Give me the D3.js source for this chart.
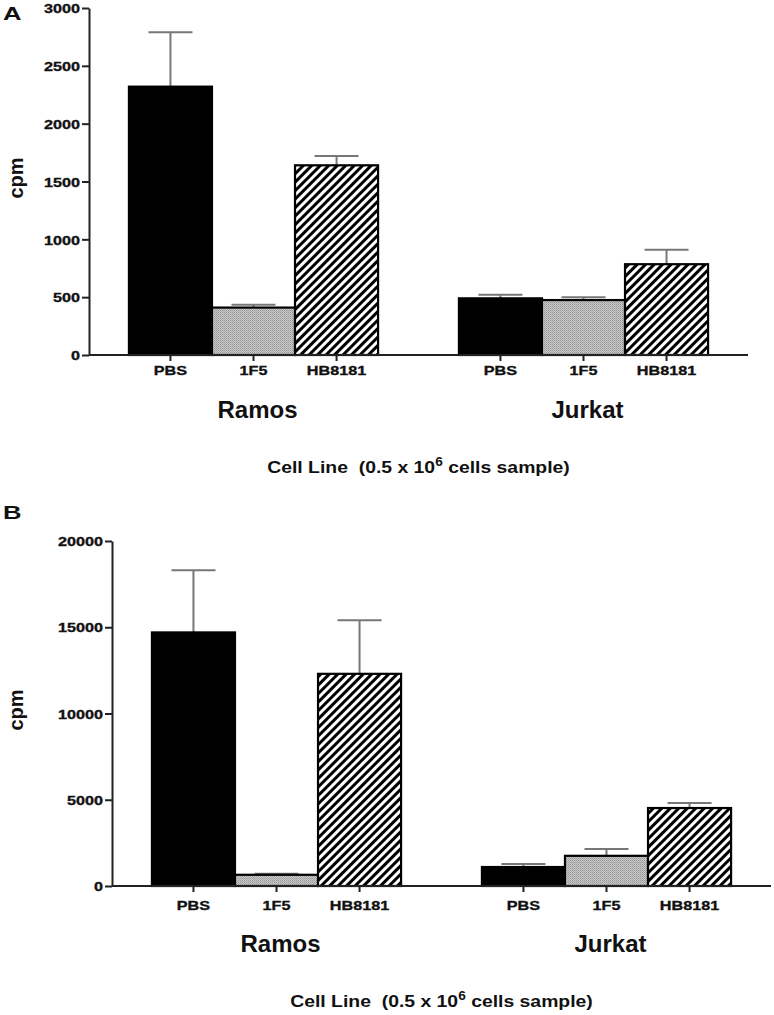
<!DOCTYPE html>
<html>
<head>
<meta charset="utf-8">
<script src="https://cdn.jsdelivr.net/npm/d3@7"></script>
<style>
  html, body { margin: 0; padding: 0; background: #fff; }
  svg { display: block; }
  text { font-family: "Liberation Sans", Arial, sans-serif; font-weight: bold; fill: #111; }
</style>
</head>
<body>
<script>
// ---- data ----
const groups = ["Ramos", "Jurkat"];
const treatments = ["PBS", "1F5", "HB8181"];

const panelAValues = [[2320, 410, 1640], [490, 475, 785]];
const panelAErrors = [[470, 25, 80], [30, 25, 125]];
const panelATicks = [0, 500, 1000, 1500, 2000, 2500, 3000];

const panelBValues = [[14700, 650, 12300], [1100, 1750, 4520]];
const panelBErrors = [[3600, 60, 3100], [170, 400, 290]];
const panelBTicks = [0, 5000, 10000, 15000, 20000];

const yTitle = "cpm";
const panelLetters = ["A", "B"];

// ---- drawing ----
const W = 774, H = 1015;
const svg = d3.select("body").append("svg").attr("width", W).attr("height", H);

const defs = svg.append("defs");
// diagonal hatch
const hatch = defs.append("pattern").attr("id", "hatch")
  .attr("patternUnits", "userSpaceOnUse").attr("width", 6).attr("height", 6)
  .attr("patternTransform", "rotate(45)");
hatch.append("rect").attr("width", 6).attr("height", 6).attr("fill", "#fff");
hatch.append("rect").attr("width", 3).attr("height", 6).attr("fill", "#000");
// grey stipple
const stip = defs.append("pattern").attr("id", "stipple")
  .attr("patternUnits", "userSpaceOnUse").attr("width", 2).attr("height", 2);
stip.append("rect").attr("width", 2).attr("height", 2).attr("fill", "#c8c8c8");
stip.append("rect").attr("width", 1).attr("height", 1).attr("fill", "#969696");
stip.append("rect").attr("x", 1).attr("y", 1).attr("width", 1).attr("height", 1).attr("fill", "#ababab");

const fills = { "PBS": "#000", "1F5": "url(#stipple)", "HB8181": "url(#hatch)" };

function panel(cfg) {
  const g = svg.append("g");
  const x0 = d3.scaleBand().domain(groups).range([cfg.xl, cfg.xr])
    .paddingInner(0.245).paddingOuter(0.121);
  const x1 = d3.scaleBand().domain(treatments).range([0, x0.bandwidth()]).padding(0);
  const y = d3.scaleLinear().domain([0, cfg.ymax]).range([cfg.yb, cfg.yt]);

  // bars
  groups.forEach((grp, gi) => {
    treatments.forEach((t, ti) => {
      const v = cfg.values[gi][ti], e = cfg.errors[gi][ti];
      const bx = x0(grp) + x1(t), bw = x1.bandwidth();
      const cx = bx + bw / 2;
      // error bar
      g.append("line").attr("x1", cx).attr("x2", cx).attr("y1", y(v)).attr("y2", y(v + e))
        .attr("stroke", "#777").attr("stroke-width", 2);
      g.append("line").attr("x1", cx - 22).attr("x2", cx + 22).attr("y1", y(v + e)).attr("y2", y(v + e))
        .attr("stroke", "#777").attr("stroke-width", 2);
      g.append("rect").attr("x", bx).attr("y", y(v)).attr("width", bw).attr("height", y(0) - y(v))
        .attr("fill", fills[t]).attr("stroke", "#000").attr("stroke-width", 2.2);
    });
  });

  // y axis
  const ya = g.append("g").attr("transform", `translate(${cfg.xl},0)`)
    .call(d3.axisLeft(y).tickValues(cfg.ticks).tickFormat(d3.format("d")).tickSize(7).tickPadding(3).tickSizeOuter(0));
  ya.select(".domain").attr("stroke", "#222").attr("stroke-width", 2);
  ya.selectAll(".tick line").attr("stroke", "#222").attr("stroke-width", 2);
  ya.selectAll(".tick text").attr("font-size", 13.5).attr("fill", "#111")
    .attr("stroke", "#111").attr("stroke-width", 0.35)
    .attr("transform", "scale(1.2,1)").attr("dy", "0.35em")
    .attr("x", -9 / 1.2);

  // x axis
  const xa = g.append("g").attr("transform", `translate(0,${cfg.yb})`);
  xa.append("line").attr("x1", cfg.xl).attr("x2", cfg.xr).attr("y1", 0).attr("y2", 0)
    .attr("stroke", "#222").attr("stroke-width", 2);
  groups.forEach(grp => {
    treatments.forEach(t => {
      const cx = x0(grp) + x1(t) + x1.bandwidth() / 2;
      xa.append("line").attr("x1", cx).attr("x2", cx).attr("y1", 0).attr("y2", 6)
        .attr("stroke", "#222").attr("stroke-width", 2);
      xa.append("text").attr("text-anchor", "middle").attr("font-size", 13.5)
        .attr("stroke", "#111").attr("stroke-width", 0.35)
        .attr("transform", `translate(${cx},${cfg.tickLabelDy}) scale(1.2,1)`).text(t);
    });
    xa.append("text").attr("text-anchor", "middle").attr("font-size", 24)
      .attr("x", x0(grp) + x0.bandwidth() / 2 + 4).attr("y", cfg.groupDy).text(grp);
  });

  // x title
  const xt = xa.append("text").attr("text-anchor", "middle").attr("font-size", 17)
    .attr("style", "white-space: pre")
    .attr("transform", `translate(${(cfg.xl + cfg.xr) / 2},${cfg.titleDy}) scale(1.14,1)`);
  xt.append("tspan").text("Cell Line  (0.5 x 10");
  xt.append("tspan").attr("font-size", 12).attr("dy", -7).text("6");
  xt.append("tspan").attr("dy", 7).text(" cells sample)");

  // y title
  g.append("text").attr("text-anchor", "middle").attr("font-size", 20)
    .attr("transform", `translate(23,${cfg.yTitleY}) rotate(-90)`).text(yTitle);

  // panel letter
  g.append("text").attr("font-size", 19)
    .attr("transform", `translate(3,${cfg.letterY}) scale(1.35,1)`).text(cfg.letter);
}

panel({
  letter: panelLetters[0], letterY: 20,
  values: panelAValues, errors: panelAErrors, ticks: panelATicks, ymax: 3000,
  xl: 89, xr: 748, yt: 8, yb: 355,
  tickLabelDy: 20, groupDy: 63, titleDy: 118, yTitleY: 178
});

panel({
  letter: panelLetters[1], letterY: 519,
  values: panelBValues, errors: panelBErrors, ticks: panelBTicks, ymax: 20000,
  xl: 112, xr: 771, yt: 541, yb: 886,
  tickLabelDy: 24, groupDy: 66, titleDy: 121, yTitleY: 710
});
</script>
</body>
</html>
